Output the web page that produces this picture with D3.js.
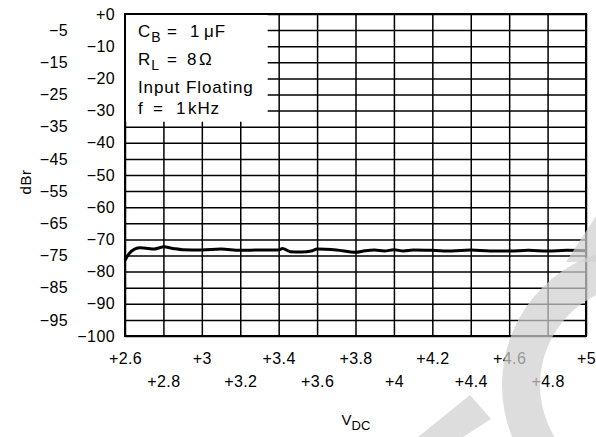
<!DOCTYPE html>
<html>
<head>
<meta charset="utf-8">
<script src="https://cdn.jsdelivr.net/npm/d3@7/dist/d3.min.js"></script>
<style>
  html, body { margin: 0; padding: 0; background: #fff; }
  svg { display: block; }
  text { font-family: "Liberation Sans", Arial, sans-serif; fill: #000; }
</style>
</head>
<body>
<svg id="chart" width="596" height="437"></svg>
<script>
// ---- data ----
const vdc = [2.60, 2.62, 2.65, 2.68, 2.72, 2.75, 2.78, 2.80, 2.85, 2.90, 3.00, 3.10, 3.20, 3.30, 3.40, 3.42, 3.46, 3.52, 3.57, 3.60, 3.70, 3.80, 3.85, 3.90, 3.95, 4.00, 4.05, 4.10, 4.20, 4.30, 4.40, 4.50, 4.60, 4.70, 4.80, 4.90, 5.00];
const dbr = [-76.5, -74.5, -73.0, -72.6, -72.8, -73.0, -72.6, -72.3, -72.8, -73.2, -73.3, -73.0, -73.4, -73.3, -73.3, -72.8, -73.8, -73.9, -73.6, -73.0, -73.3, -74.0, -73.5, -73.3, -73.6, -73.2, -73.6, -73.3, -73.4, -73.6, -73.3, -73.6, -73.6, -73.4, -73.6, -73.4, -73.5];

const xTicksTop = [2.6, 3.0, 3.4, 3.8, 4.2, 4.6, 5.0];
const xTicksBottom = [2.8, 3.2, 3.6, 4.0, 4.4, 4.8];
const yTicksRight = [0, -10, -20, -30, -40, -50, -60, -70, -80, -90, -100];
const yTicksLeft = [-5, -15, -25, -35, -45, -55, -65, -75, -85, -95];

const yTitle = "dBr";
const xTitleMain = "V";
const xTitleSub = "DC";
const legendLines = [
  [{t: "C", sub: "B"}, {t: "="}, {t: "1"}, {t: "\u03BCF"}],
  [{t: "R", sub: "L"}, {t: "="}, {t: "8"}, {t: "\u03A9"}],
  [{t: "Input Floating"}],
  [{t: "f"}, {t: "="}, {t: "1"}, {t: "kHz"}]
];

// ---- layout ----
const svg = d3.select("#chart");
const L = 125, R = 586, T = 14, B = 336;
const x = d3.scaleLinear().domain([2.6, 5.0]).range([L, R]);
const y = d3.scaleLinear().domain([-100, 0]).range([B, T]);

const fmtX = d => "+" + d3.format("~g")(d);
const fmtY = d => d === 0 ? "+0" : "\u2212" + Math.abs(d);

// grid
const allX = xTicksTop.concat(xTicksBottom).sort((a, b) => a - b);
const allY = yTicksRight.concat(yTicksLeft);
const grid = svg.append("g");
grid.append("g").attr("transform", `translate(0,${B})`)
  .call(d3.axisBottom(x).tickValues(allX).tickSize(-(B - T)).tickFormat(""))
  .call(g => g.select(".domain").remove())
  .call(g => g.selectAll("line").attr("stroke", "#000").attr("stroke-width", 1.5));
grid.append("g").attr("transform", `translate(${L},0)`)
  .call(d3.axisLeft(y).tickValues(allY).tickSize(-(R - L)).tickFormat(""))
  .call(g => g.select(".domain").remove())
  .call(g => g.selectAll("line").attr("stroke", "#000").attr("stroke-width", 1.5));

// legend box (white area over grid)
svg.append("rect")
  .attr("x", x(2.6) + 1).attr("y", y(0) + 1)
  .attr("width", x(3.4) - 11 - x(2.6) - 1)
  .attr("height", y(-35) - 5 - y(0) - 1)
  .attr("fill", "#fff");

// frame
svg.append("rect").attr("x", L).attr("y", T).attr("width", R - L).attr("height", B - T)
  .attr("fill", "none").attr("stroke", "#000").attr("stroke-width", 2);

// curve
svg.append("path")
  .datum(vdc.map((v, i) => [v, dbr[i]]))
  .attr("fill", "none").attr("stroke", "#000").attr("stroke-width", 3)
  .attr("stroke-linejoin", "round")
  .attr("d", d3.line().x(d => x(d[0])).y(d => y(d[1])).curve(d3.curveMonotoneX));

// y labels
function styleLabels(g) {
  g.select(".domain").remove();
  g.selectAll("text").attr("font-size", 16).attr("letter-spacing", 0.4)
    .attr("font-family", "'Liberation Sans', Arial, sans-serif").attr("fill", "#000");
}
svg.append("g").attr("transform", `translate(${L},0)`)
  .call(d3.axisLeft(y).tickValues(yTicksRight).tickSize(0).tickPadding(10).tickFormat(fmtY))
  .call(styleLabels);
svg.append("g").attr("transform", `translate(${L},0)`)
  .call(d3.axisLeft(y).tickValues(yTicksLeft).tickSize(0).tickPadding(57).tickFormat(fmtY))
  .call(styleLabels);

// x labels
svg.append("g").attr("transform", `translate(0,${B})`)
  .call(d3.axisBottom(x).tickValues(xTicksTop).tickSize(0).tickPadding(17).tickFormat(fmtX))
  .call(styleLabels);
svg.append("g").attr("transform", `translate(0,${B})`)
  .call(d3.axisBottom(x).tickValues(xTicksBottom).tickSize(0).tickPadding(40).tickFormat(fmtX))
  .call(styleLabels);

// axis titles
svg.append("text").attr("transform", "translate(31,182) rotate(-90)")
  .attr("text-anchor", "middle").attr("font-size", 15).attr("letter-spacing", 0.5).text(yTitle);
const xt = svg.append("text").attr("x", 356).attr("y", 425).attr("text-anchor", "middle")
  .attr("font-size", 15);
xt.append("tspan").text(xTitleMain);
xt.append("tspan").attr("dy", 5).attr("font-size", 13).text(xTitleSub);

// legend text
const colX = [[138, 167, 190, 204], [138, 167, 187, 199], [138], [138, 153, 176, 188]];
const baseY = [37, 65, 93, 114];
legendLines.forEach((line, i) => {
  line.forEach((p, j) => {
    const t = svg.append("text").attr("x", colX[i][j]).attr("y", baseY[i])
      .attr("font-size", 17).attr("letter-spacing", 0.9);
    t.append("tspan").text(p.t);
    if (p.sub) t.append("tspan").attr("dy", 5).attr("font-size", 14).text(p.sub);
  });
});

// faint watermark overlay
const wm = svg.append("g").attr("fill", "rgb(208,208,208)").attr("fill-opacity", 0.72);
wm.append("path").attr("transform", "translate(640,385)")
  .attr("d", d3.arc().innerRadius(100).outerRadius(138).startAngle(-Math.PI).endAngle(0)());
wm.append("path").attr("d", "M596,216 L596,262 L566,262 Z");
wm.append("path").attr("d", "M470,395 L491,419 L463,437 L418,437 Z");
</script>
</body>
</html>
